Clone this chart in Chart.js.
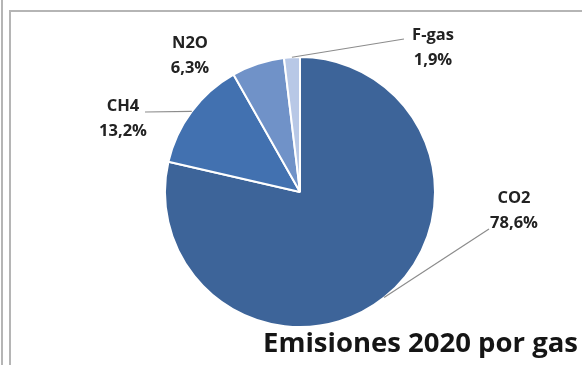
<!DOCTYPE html>
<html>
<head>
<meta charset="utf-8">
<script src="https://cdn.jsdelivr.net/npm/chart.js@4"></script>
<style>
    html, body { margin: 0; padding: 0; background: #fff; }
    #wrap { position: relative; width: 582px; height: 365px; }
    /* double rule on the left and the frame line on top */
    #wrap:before { content: ''; position: absolute; left: 1px; top: 0; bottom: 0; width: 2px; background: #b5b5b5; }
    #frame { position: absolute; left: 9px; top: 10px; right: 0; bottom: 0; border-left: 2px solid #b5b5b5; border-top: 2px solid #b5b5b5; }
    canvas { position: absolute; left: 0; top: 0; }
</style>
</head>
<body>
<div id="wrap">
    <div id="frame"></div>
    <canvas id="pieGas" width="582" height="365"></canvas>
</div>
<script>
    // Emissions share by gas, 2020 (%)
    let gases = ['CO2', 'CH4', 'N2O', 'F-gas'];
    let shares = [78.6, 13.2, 6.3, 1.9];
    let shareLabels = ['78,6%', '13,2%', '6,3%', '1,9%'];
    let sliceColors = ['#3d6499', '#4271b0', '#7092c8', '#b8c8e6'];

    // where each label block sits (centre x, first line y) and whether it gets a leader line
    let labelPos = [
        {x: 514, y: 198, line: true, lx: 489, ly: 229},
        {x: 123, y: 106, line: true, lx: 145, ly: 112},
        {x: 190, y: 43, line: false},
        {x: 433, y: 35, line: true, lx: 404, ly: 39}
    ];

    let fontFam = '"Open Sans", Lato, sans-serif';

    let gasLabels = {
        id: 'gasLabels',
        afterDraw: function (chart) {
            let ctx = chart.ctx;
            let arcs = chart.getDatasetMeta(0).data;
            ctx.save();
            arcs.forEach(function (arc, i) {
                let p = labelPos[i];
                let mid = (arc.startAngle + arc.endAngle) / 2;
                if (p.line) {
                    ctx.strokeStyle = '#8c8c8c';
                    ctx.lineWidth = 1.2;
                    ctx.beginPath();
                    ctx.moveTo(arc.x + Math.cos(mid) * arc.outerRadius, arc.y + Math.sin(mid) * arc.outerRadius);
                    ctx.lineTo(p.lx, p.ly);
                    ctx.stroke();
                }
                ctx.fillStyle = '#222222';
                ctx.font = 'bold 16.5px ' + fontFam;
                ctx.textAlign = 'center';
                ctx.textBaseline = 'middle';
                ctx.fillText(gases[i], p.x, p.y);
                ctx.fillText(shareLabels[i], p.x, p.y + 25);
            });

            // title, bottom right
            ctx.fillStyle = '#151515';
            ctx.font = 'bold 27.5px ' + fontFam;
            ctx.textAlign = 'right';
            ctx.textBaseline = 'middle';
            ctx.fillText('Emisiones 2020 por gas', 578, 344);
            ctx.restore();
        }
    };

    let ctx = document.getElementById('pieGas');
    let pieChart = new Chart(ctx, {
        type: 'pie',
        data: {
            labels: gases,
            datasets: [{
                data: shares,
                backgroundColor: sliceColors,
                borderColor: '#ffffff',
                borderWidth: 2
            }]
        },
        options: {
            responsive: false,
            animation: false,
            layout: {
                padding: {left: 164, right: 146, top: 56, bottom: 37}
            },
            plugins: {
                legend: {display: false},
                tooltip: {enabled: false}
            }
        },
        plugins: [gasLabels]
    });
</script>
</body>
</html>
